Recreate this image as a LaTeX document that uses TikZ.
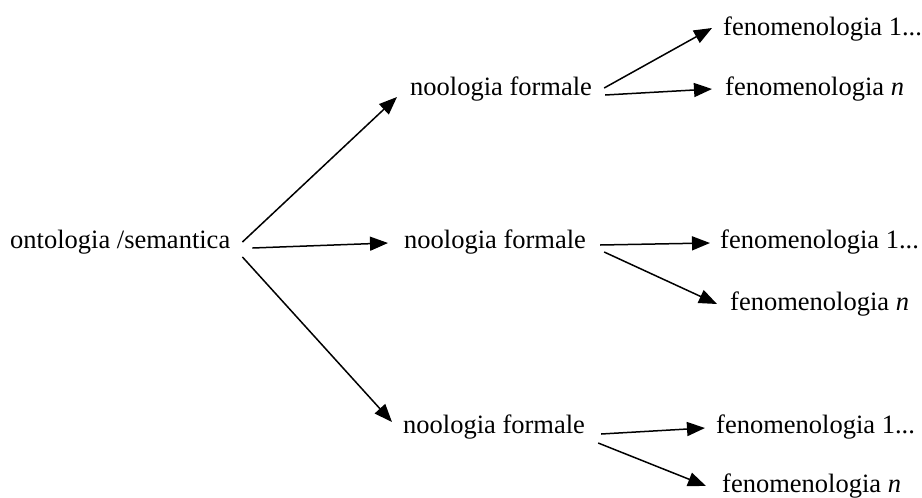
\documentclass[tikz,border=0pt]{standalone}
\usepackage{fontspec}
\setmainfont{Liberation Serif}
\usetikzlibrary{arrows.meta}
\begin{document}
\begin{tikzpicture}[x=1pt,y=-1pt,
  lbl/.style={anchor=base west,inner sep=0pt,font=\fontsize{26.5}{30}\selectfont},
  conn/.style={line width=1.5pt,-{Triangle[length=18pt,width=14pt]}}]
\useasboundingbox (0,0) rectangle (922,498);
\node[lbl] (ont) at (10,248) {ontologia /semantica};
\node[lbl] (nt) at (410,95) {noologia formale};
\node[lbl] (nm) at (404,248) {noologia formale};
\node[lbl] (nb) at (403,433) {noologia formale};
\node[lbl] (ft1) at (723,35) {fenomenologia 1...};
\node[lbl] (ftn) at (725,95) {fenomenologia \textit{n}};
\node[lbl] (fm1) at (720,248) {fenomenologia 1...};
\node[lbl] (fmn) at (730,310) {fenomenologia \textit{n}};
\node[lbl] (fb1) at (716,433) {fenomenologia 1...};
\node[lbl] (fbn) at (722,492) {fenomenologia \textit{n}};
% from ontologia
\draw[conn] ([shift={(12,-6)}]ont.base east) -- ([shift={(-13,2)}]nt.base west);
\draw[conn] ([shift={(22,0)}]ont.base east) -- ([shift={(-16,-5)}]nm.base west);
\draw[conn] ([shift={(12,9)}]ont.base east) -- ([shift={(-11,-11)}]nb.base west);
% top
\draw[conn] ([shift={(12,-7)}]nt.base east) -- ([shift={(-11,-7)}]ft1.base west);
\draw[conn] ([shift={(13,0)}]nt.base east) -- ([shift={(-13,-6)}]ftn.base west);
% middle
\draw[conn] ([shift={(14,-3)}]nm.base east) -- ([shift={(-10,-5)}]fm1.base west);
\draw[conn] ([shift={(18,4)}]nm.base east) -- ([shift={(-13,-6)}]fmn.base west);
% bottom
\draw[conn] ([shift={(16,1)}]nb.base east) -- ([shift={(-11,-5)}]fb1.base west);
\draw[conn] ([shift={(13,10)}]nb.base east) -- ([shift={(-16,-6)}]fbn.base west);
\end{tikzpicture}
\end{document}
